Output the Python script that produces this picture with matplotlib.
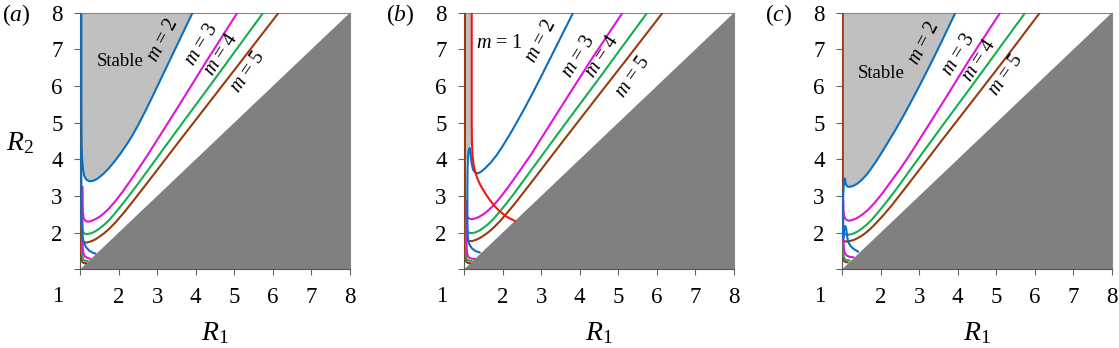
import matplotlib
matplotlib.use("Agg")
import matplotlib.pyplot as plt

plt.rcParams['font.family'] = 'serif'
plt.rcParams['font.serif'] = ['Liberation Serif', 'DejaVu Serif']
plt.rcParams['mathtext.fontset'] = 'custom'
plt.rcParams['mathtext.rm'] = 'Liberation Serif'
plt.rcParams['mathtext.it'] = 'Liberation Serif:italic'

# ---------------- data (R1, R2) ----------------
TICKS = [1, 2, 3, 4, 5, 6, 7, 8]
TICK_LABELS = ['', '2', '3', '4', '5', '6', '7', '8']
YTICK_LABELS = ['', '2', '3', '4', '5', '6', '7', '8']
DIAG = [(1, 1), (8, 8), (8, 1)]

# panel (a)
A_M2_UP = [(1.035, 8.0), (1.035, 6.5), (1.037, 5.5), (1.04, 4.8), (1.045, 4.3), (1.055, 4.0),
           (1.075, 3.75), (1.11, 3.55), (1.17, 3.44), (1.26, 3.40), (1.35, 3.42), (1.45, 3.47),
           (1.6, 3.60), (1.75, 3.76), (1.9, 3.95), (2.05, 4.16), (2.2, 4.39), (2.35, 4.64),
           (2.5, 4.92), (2.7, 5.33), (2.9, 5.76), (3.1, 6.2), (3.3, 6.64), (3.5, 7.08),
           (3.7, 7.52), (3.9, 7.96), (3.92, 8.0)]
A_M2_LOW = [(1.035, 4.3), (1.035, 3.2), (1.038, 2.5), (1.045, 2.1), (1.065, 1.88), (1.1, 1.73),
            (1.16, 1.6), (1.24, 1.51), (1.32, 1.46), (1.40, 1.43)]
A_M3_UP = [(1.06, 3.25), (1.062, 2.9), (1.07, 2.6), (1.09, 2.42), (1.13, 2.33), (1.2, 2.30),
           (1.3, 2.32), (1.4, 2.37), (1.5, 2.43), (1.62, 2.53), (1.75, 2.66), (1.9, 2.84),
           (2.1, 3.11), (2.3, 3.41), (2.5, 3.72), (2.73, 4.08), (3.59, 5.51), (4.28, 6.68),
           (5.08, 8.0)]
A_M3_LOW = [(1.06, 3.25), (1.062, 2.5), (1.065, 1.9), (1.072, 1.58), (1.09, 1.43), (1.13, 1.35),
            (1.2, 1.31), (1.27, 1.29)]
A_M4_UP = [(1.05, 2.45), (1.052, 2.25), (1.065, 2.08), (1.09, 2.0), (1.13, 1.97), (1.18, 1.96),
           (1.3, 1.99), (1.4, 2.04), (1.5, 2.11), (1.62, 2.21), (1.75, 2.34), (1.9, 2.52),
           (2.1, 2.78), (2.3, 3.05), (2.5, 3.33), (2.73, 3.66), (3.59, 4.90), (4.46, 6.14),
           (5.75, 8.0)]
A_M4_LOW = [(1.05, 2.45), (1.05, 1.9), (1.052, 1.55), (1.06, 1.37), (1.08, 1.28), (1.12, 1.24),
            (1.2, 1.23)]
A_M5_UP = [(1.03, 2.1), (1.032, 1.85), (1.05, 1.76), (1.1, 1.74), (1.17, 1.73), (1.3, 1.77),
           (1.4, 1.82), (1.5, 1.89), (1.62, 1.98), (1.75, 2.1), (1.9, 2.26), (2.1, 2.5),
           (2.3, 2.76), (2.5, 3.03), (2.73, 3.34), (3.59, 4.52), (4.46, 5.70), (5.24, 6.76),
           (6.15, 8.0)]
A_M5_LOW = [(1.03, 2.1), (1.03, 1.6), (1.033, 1.35), (1.045, 1.24), (1.07, 1.19), (1.11, 1.17),
            (1.16, 1.17)]

# panel (b)
B_M1 = [(1.20, 8.0), (1.20, 5.0), (1.205, 4.5), (1.22, 4.1), (1.25, 3.85), (1.29, 3.66),
        (1.34, 3.5), (1.41, 3.33), (1.48, 3.2), (1.56, 3.06), (1.67, 2.89), (1.8, 2.72),
        (1.93, 2.58), (2.1, 2.44), (2.32, 2.32)]
B_M2 = [(1.41, 1.46), (1.3, 1.5), (1.2, 1.58), (1.13, 1.7), (1.1, 1.85), (1.088, 2.3), (1.087, 3.0),
        (1.09, 3.6), (1.1, 4.0), (1.12, 4.25), (1.145, 4.31), (1.165, 4.22), (1.19, 3.95),
        (1.23, 3.73), (1.29, 3.64), (1.37, 3.62), (1.45, 3.67), (1.55, 3.76), (1.7, 3.92),
        (1.85, 4.12), (2.0, 4.36), (2.2, 4.7), (2.4, 5.07), (2.6, 5.45), (2.8, 5.85),
        (3.0, 6.26), (3.2, 6.68), (3.4, 7.1), (3.6, 7.52), (3.83, 8.0)]
B_M3_UP = [(1.065, 2.85), (1.068, 2.6), (1.08, 2.45), (1.12, 2.39), (1.2, 2.37), (1.3, 2.39),
           (1.4, 2.44), (1.5, 2.50), (1.62, 2.60), (1.75, 2.73), (1.9, 2.91), (2.1, 3.18),
           (2.3, 3.47), (2.5, 3.77), (2.73, 4.12), (3.59, 5.55), (4.3, 6.72), (5.11, 8.0)]
B_M3_LOW = [(1.065, 2.85), (1.065, 2.2), (1.067, 1.7), (1.075, 1.47), (1.1, 1.36), (1.15, 1.31),
            (1.22, 1.29), (1.28, 1.29)]
B_M4_UP = [(1.05, 2.35), (1.052, 2.18), (1.07, 2.06), (1.12, 2.0), (1.2, 1.99), (1.3, 2.01),
           (1.4, 2.06), (1.5, 2.13), (1.62, 2.23), (1.75, 2.36), (1.9, 2.54), (2.1, 2.80),
           (2.3, 3.07), (2.5, 3.36), (2.73, 3.69), (3.59, 4.92), (4.46, 6.15), (5.75, 8.0)]
B_M4_LOW = [(1.05, 2.35), (1.05, 1.8), (1.052, 1.5), (1.06, 1.33), (1.08, 1.26), (1.13, 1.24),
            (1.2, 1.23)]
B_M5_UP = [(1.03, 1.77), (1.09, 1.77), (1.17, 1.77), (1.24, 1.78), (1.32, 1.81), (1.42, 1.86),
           (1.52, 1.93), (1.64, 2.02), (1.77, 2.14), (1.92, 2.30), (2.1, 2.52), (2.3, 2.77),
           (2.5, 3.04), (2.73, 3.35), (3.59, 4.53), (4.46, 5.71), (5.24, 6.76), (6.15, 8.0)]
B_M5_LOW = [(1.025, 8.0), (1.025, 4.0), (1.025, 2.0), (1.027, 1.5), (1.035, 1.3), (1.05, 1.22),
            (1.09, 1.18), (1.16, 1.17)]
B_STABLE = [(1.03, 8.0), (1.195, 8.0), (1.195, 4.5), (1.17, 4.35), (1.145, 4.31), (1.12, 4.25),
            (1.1, 4.0), (1.03, 4.0)]

# panel (c)
C_M2_UP = [(1.03, 3.0), (1.045, 3.3), (1.06, 3.45), (1.072, 3.48), (1.085, 3.42), (1.1, 3.32),
           (1.14, 3.26), (1.2, 3.25), (1.3, 3.28), (1.4, 3.34), (1.5, 3.43), (1.62, 3.56),
           (1.75, 3.74), (1.9, 3.97), (2.05, 4.22), (2.2, 4.48), (2.4, 4.83), (2.6, 5.2),
           (2.8, 5.59), (3.0, 5.99), (3.2, 6.4), (3.4, 6.82), (3.6, 7.25), (3.8, 7.69), (3.94, 8.0)]
C_M2_LOW = [(1.03, 3.0), (1.03, 2.2), (1.035, 1.85), (1.05, 2.05), (1.07, 2.16), (1.09, 2.18),
            (1.11, 2.1), (1.13, 1.92), (1.16, 1.75), (1.22, 1.64), (1.3, 1.56), (1.42, 1.48)]
C_M3_UP = [(1.03, 2.89), (1.035, 2.65), (1.05, 2.47), (1.09, 2.37), (1.16, 2.33), (1.25, 2.34),
           (1.35, 2.38), (1.45, 2.44), (1.57, 2.53), (1.7, 2.65), (1.85, 2.82), (2.05, 3.08),
           (2.25, 3.37), (2.5, 3.73), (2.73, 4.08), (3.59, 5.51), (4.28, 6.68), (5.10, 8.0)]
C_M3_LOW = [(1.03, 2.2), (1.035, 1.8), (1.045, 1.58), (1.07, 1.45), (1.12, 1.38), (1.2, 1.34),
            (1.3, 1.33)]
C_M4_UP = [(1.03, 2.2), (1.04, 2.05), (1.07, 1.97), (1.12, 1.94), (1.2, 1.95), (1.3, 1.98),
           (1.4, 2.03), (1.5, 2.10), (1.62, 2.20), (1.75, 2.33), (1.9, 2.51), (2.1, 2.77),
           (2.3, 3.04), (2.5, 3.32), (2.73, 3.66), (3.59, 4.90), (4.46, 6.14), (5.75, 8.0)]
C_M4_LOW = [(1.03, 1.75), (1.033, 1.5), (1.045, 1.35), (1.07, 1.28), (1.12, 1.25), (1.2, 1.24)]
C_M5_UP = [(1.025, 1.8), (1.06, 1.77), (1.11, 1.76), (1.18, 1.77), (1.3, 1.80), (1.4, 1.85),
           (1.5, 1.91), (1.62, 2.00), (1.75, 2.12), (1.9, 2.28), (2.1, 2.51), (2.3, 2.76),
           (2.5, 3.03), (2.73, 3.34), (3.59, 4.52), (4.46, 5.70), (5.24, 6.76), (6.13, 8.0)]
C_M5_LOW = [(1.02, 8.0), (1.02, 4.0), (1.02, 2.0), (1.022, 1.5), (1.03, 1.32), (1.05, 1.23),
            (1.09, 1.2), (1.15, 1.19)]
C_STABLE_EDGE = [(1.02, 8.0), (1.02, 3.0)]

# label positions (R1, R2) and rotations
A_LABELS = [('$m$ = 2', 3.16, 7.26, 62), ('$m$ = 3', 4.15, 7.12, 58),
            ('$m$ = 4', 4.67, 6.85, 57), ('$m$ = 5', 5.36, 6.39, 55)]
B_LABELS = [('$m$ = 1', 1.93, 7.17, 0), ('$m$ = 2', 3.01, 7.21, 62), ('$m$ = 3', 3.99, 6.80, 58),
            ('$m$ = 4', 4.60, 6.80, 57), ('$m$ = 5', 5.39, 6.26, 55)]
C_LABELS = [('$m$ = 2', 3.13, 7.17, 62), ('$m$ = 3', 4.03, 6.85, 58),
            ('$m$ = 4', 4.57, 6.71, 57), ('$m$ = 5', 5.26, 6.30, 55)]
STABLE_POS_A = (2.04, 6.66)
STABLE_POS_C = (2.02, 6.33)

BLUE = '#0a6fc2'
MAGENTA = '#dc14dc'
GREEN = '#14b050'
BROWN = '#983c0c'
RED = '#ff1010'
LIGHT = '#c0c0c0'
DARK = '#808080'
LW = 1.5
SERIF = 'Liberation Serif'


def xy(pts):
    return [p[0] for p in pts], [p[1] for p in pts]


W, H = 1119, 348
fig = plt.figure(figsize=(W / 100, H / 100), dpi=100)
lefts = [80, 464, 842]
ax_w, ax_h = 270, 256.7
bottom = 269.4
axes = [fig.add_axes([l / W, 1 - bottom / H, ax_w / W, ax_h / H]) for l in lefts]

panels = [
    dict(curves=[(A_M5_UP, BROWN), (A_M5_LOW, BROWN), (A_M4_UP, GREEN), (A_M4_LOW, GREEN),
                 (A_M3_UP, MAGENTA), (A_M3_LOW, MAGENTA), (A_M2_LOW, BLUE), (A_M2_UP, BLUE)],
         fill=A_M2_UP, labels=A_LABELS, stable=STABLE_POS_A, tag='$(a)$'),
    dict(curves=[(B_M5_UP, BROWN), (B_M5_LOW, BROWN), (B_M4_UP, GREEN), (B_M4_LOW, GREEN),
                 (B_M3_UP, MAGENTA), (B_M3_LOW, MAGENTA), (B_M2, BLUE), (B_M1, RED)],
         fill=B_STABLE, labels=B_LABELS, stable=None, tag='$(b)$'),
    dict(curves=[(C_M5_LOW, BROWN), (C_M5_UP, BROWN), (C_M4_UP, GREEN), (C_M4_LOW, GREEN),
                 (C_M3_UP, MAGENTA), (C_M3_LOW, MAGENTA), (C_M2_LOW, BLUE), (C_M2_UP, BLUE)],
         fill=C_STABLE_EDGE + C_M2_UP, labels=C_LABELS, stable=STABLE_POS_C, tag='$(c)$'),
]

for i, (ax, p) in enumerate(zip(axes, panels)):
    ax.set_xlim(1, 8)
    ax.set_ylim(1, 8)
    fx, fy = xy(p['fill'])
    ax.fill(fx, fy, color=LIGHT, lw=0, zorder=1)
    dx, dy = xy(DIAG)
    ax.fill(dx, dy, color=DARK, lw=0, zorder=1)
    for pts, c in p['curves']:
        x, y = xy(pts)
        ax.plot(x, y, color=c, lw=LW, solid_capstyle='round', solid_joinstyle='round', zorder=3)
    for txt, lx, ly, rot in p['labels']:
        ax.text(lx, ly, txt, rotation=rot, ha='center', va='center', fontsize=14.5,
                family=SERIF, rotation_mode='anchor', zorder=4)
    if p['stable'] is not None:
        ax.text(p['stable'][0], p['stable'][1], 'Stable', ha='center', va='center',
                fontsize=13.5, family=SERIF, zorder=4)
    ax.set_xticks(TICKS)
    ax.set_xticklabels(TICK_LABELS, family=SERIF)
    ax.set_yticks(TICKS)
    ax.set_yticklabels(YTICK_LABELS, family=SERIF)
    ax.tick_params(direction='out', length=4.5, width=0.8, color='#666666', labelsize=16.5,
                   pad=8)
    for s in ax.spines.values():
        s.set_color('#888888')
        s.set_linewidth(0.8)
    ax.spines['left'].set_color('#555555')
    ax.spines['bottom'].set_color('#555555')
    # corner "1"
    ax.annotate('1', xy=(0, 0), xycoords='axes fraction', xytext=(-22, -27.5),
                textcoords='offset pixels', ha='center', va='center', fontsize=16.5, family=SERIF)
    ax.text(0.5, -0.247, '$R_1$', transform=ax.transAxes, ha='center', va='center', fontsize=20)
    ax.text(-0.235, 0.99, p['tag'], transform=ax.transAxes, ha='center', va='center', fontsize=17)
    if i == 0:
        ax.text(-0.222, 0.493, '$R_2$', transform=ax.transAxes, ha='center', va='center',
                fontsize=20)

fig.savefig('out.png', dpi=100)
